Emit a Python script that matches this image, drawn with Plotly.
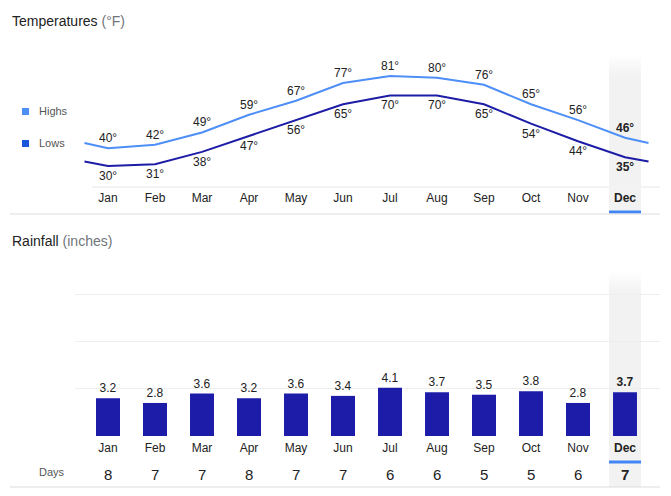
import plotly.graph_objects as go

months = ["Jan", "Feb", "Mar", "Apr", "May", "Jun", "Jul", "Aug", "Sep", "Oct", "Nov", "Dec"]
highs = [40, 42, 49, 59, 67, 77, 81, 80, 76, 65, 56, 46]
lows = [30, 31, 38, 47, 56, 65, 70, 70, 65, 54, 44, 35]
rainfall = [3.2, 2.8, 3.6, 3.2, 3.6, 3.4, 4.1, 3.7, 3.5, 3.8, 2.8, 3.7]
rain_days = [8, 7, 7, 8, 7, 7, 6, 6, 5, 5, 6, 7]
selected = 11  # Dec

W, H = 671, 496
OFF = 8  # page body margin
FONT = "Arial, Liberation Sans, sans-serif"
DARK = "#222222"
GREY = "#70757a"
HIGH_C = "#4d8ff7"
LOW_C = "#1c1ca6"
LOW_KEY = "#1a56d8"
BAR_C = "#1c1ca8"


def px(x):
    return (x - OFF) / W


def py(y):
    return 1 - (y - OFF) / H


def bold(items):
    return ["<b>%s</b>" % s if i == selected else s for i, s in enumerate(items)]


idx = list(range(len(months)))
# lines run half a step past both ends, to the Dec/Jan midpoint
ext_x = [-0.5] + idx + [len(idx) - 0.5]
ext_hi = [(highs[-1] + highs[0]) / 2] + highs + [(highs[-1] + highs[0]) / 2]
ext_lo = [(lows[-1] + lows[0]) / 2] + lows + [(lows[-1] + lows[0]) / 2]

x_range = [(75 - 108) / 47, (660 - 108) / 47]

fig = go.Figure()

# temperatures
fig.add_trace(go.Scatter(x=ext_x, y=ext_hi, mode="lines", line=dict(color=HIGH_C, width=2),
                         xaxis="x", yaxis="y", hoverinfo="skip"))
fig.add_trace(go.Scatter(x=ext_x, y=ext_lo, mode="lines", line=dict(color=LOW_C, width=2),
                         xaxis="x", yaxis="y", hoverinfo="skip"))

# rainfall
fig.add_trace(go.Bar(x=idx, y=rainfall, width=0.51, marker=dict(color=BAR_C, line=dict(width=0)),
                     text=bold(["%.1f" % v for v in rainfall]), textposition="outside",
                     textfont=dict(size=12, color=DARK), cliponaxis=False,
                     xaxis="x2", yaxis="y2"))

shapes = []
# highlighted month column, fading in at the top
for top, bottom, mark in [(55, 213, 212), (272, 487, 462)]:
    shapes.append(dict(type="rect", xref="x", yref="paper", x0=selected - 0.34, x1=selected + 0.34,
                       y0=py(bottom), y1=py(top + 20), fillcolor="#f2f2f2", line_width=0, layer="below"))
    for k in range(10):
        shapes.append(dict(type="rect", xref="x", yref="paper", x0=selected - 0.34, x1=selected + 0.34,
                           y0=py(top + 2 * k + 2), y1=py(top + 2 * k),
                           fillcolor="rgba(242,242,242,%.2f)" % ((k + 0.5) / 10), line_width=0, layer="below"))
    shapes.append(dict(type="line", xref="x", yref="paper", x0=selected - 0.34, x1=selected + 0.34,
                       y0=py(mark), y1=py(mark), line=dict(color="#4285f4", width=3)))
# temperature baseline and dividers
shapes.append(dict(type="line", xref="x", yref="paper", x0=(92 - 108) / 47, x1=x_range[1],
                   y0=py(187), y1=py(187), line=dict(color="#f3f3f3", width=2), layer="below"))
for y in (214, 487):
    shapes.append(dict(type="line", xref="paper", yref="paper", x0=px(10), x1=px(660),
                       y0=py(y), y1=py(y), line=dict(color="#dadce0", width=1)))
# legend keys
shapes.append(dict(type="rect", xref="paper", yref="paper", x0=px(22), x1=px(29), y0=py(115), y1=py(108),
                   fillcolor=HIGH_C, line_width=0))
shapes.append(dict(type="rect", xref="paper", yref="paper", x0=px(22), x1=px(29), y0=py(147), y1=py(140),
                   fillcolor=LOW_KEY, line_width=0))

annotations = [
    dict(text="Temperatures <span style='color:%s'>(°F)</span>" % GREY, x=px(10), y=py(21),
         xanchor="left", yanchor="middle", font=dict(size=14, color=DARK)),
    dict(text="Rainfall <span style='color:%s'>(inches)</span>" % GREY, x=px(10), y=py(241),
         xanchor="left", yanchor="middle", font=dict(size=14, color=DARK)),
    dict(text="Highs", x=px(37), y=py(111), xanchor="left", yanchor="middle", font=dict(size=11, color="#555")),
    dict(text="Lows", x=px(37), y=py(143), xanchor="left", yanchor="middle", font=dict(size=11, color="#555")),
    dict(text="Days", x=px(67), y=py(472), xanchor="right", yanchor="middle", font=dict(size=11, color="#555")),
]
for i, (hi, lo) in enumerate(zip(highs, lows)):
    annotations.append(dict(text=bold(["%d°" % v for v in highs])[i], x=i, xref="x", y=hi, yref="y",
                            yshift=10, xanchor="center", yanchor="middle", font=dict(size=12, color=DARK)))
    annotations.append(dict(text=bold(["%d°" % v for v in lows])[i], x=i, xref="x", y=lo, yref="y",
                            yshift=-10, xanchor="center", yanchor="middle", font=dict(size=12, color=DARK)))
for i, d in enumerate(rain_days):
    annotations.append(dict(text=bold([str(v) for v in rain_days])[i], x=i, xref="x2", y=py(474), yref="paper",
                            xanchor="center", yanchor="middle", font=dict(size=15, color=DARK)))
for a in annotations:
    a.setdefault("xref", "paper")
    a.setdefault("yref", "paper")
    a["showarrow"] = False

axis_x = dict(range=x_range, tickmode="array", tickvals=idx, ticktext=bold(months), showgrid=False,
              zeroline=False, showline=False, ticks="", tickfont=dict(size=12, color=DARK), fixedrange=True)

fig.update_layout(
    width=W, height=H, margin=dict(l=0, r=0, t=0, b=0),
    paper_bgcolor="white", plot_bgcolor="rgba(0,0,0,0)",
    font=dict(family=FONT, color=DARK), showlegend=False,
    xaxis=dict(axis_x, domain=[px(75), px(660)], anchor="y", ticklabelstandoff=2),
    yaxis=dict(domain=[py(187), py(55)], range=[18.1, 92.9], visible=False),
    xaxis2=dict(axis_x, domain=[px(75), px(660)], anchor="y2", ticklabelstandoff=3),
    yaxis2=dict(domain=[py(436), py(272)], range=[0, 13.9], tickvals=[0, 4, 8, 12], showticklabels=False,
                showgrid=True, gridcolor="#eeeeee", gridwidth=1, zeroline=False, ticks=""),
    shapes=shapes, annotations=annotations,
)

fig.write_html("out.html")
